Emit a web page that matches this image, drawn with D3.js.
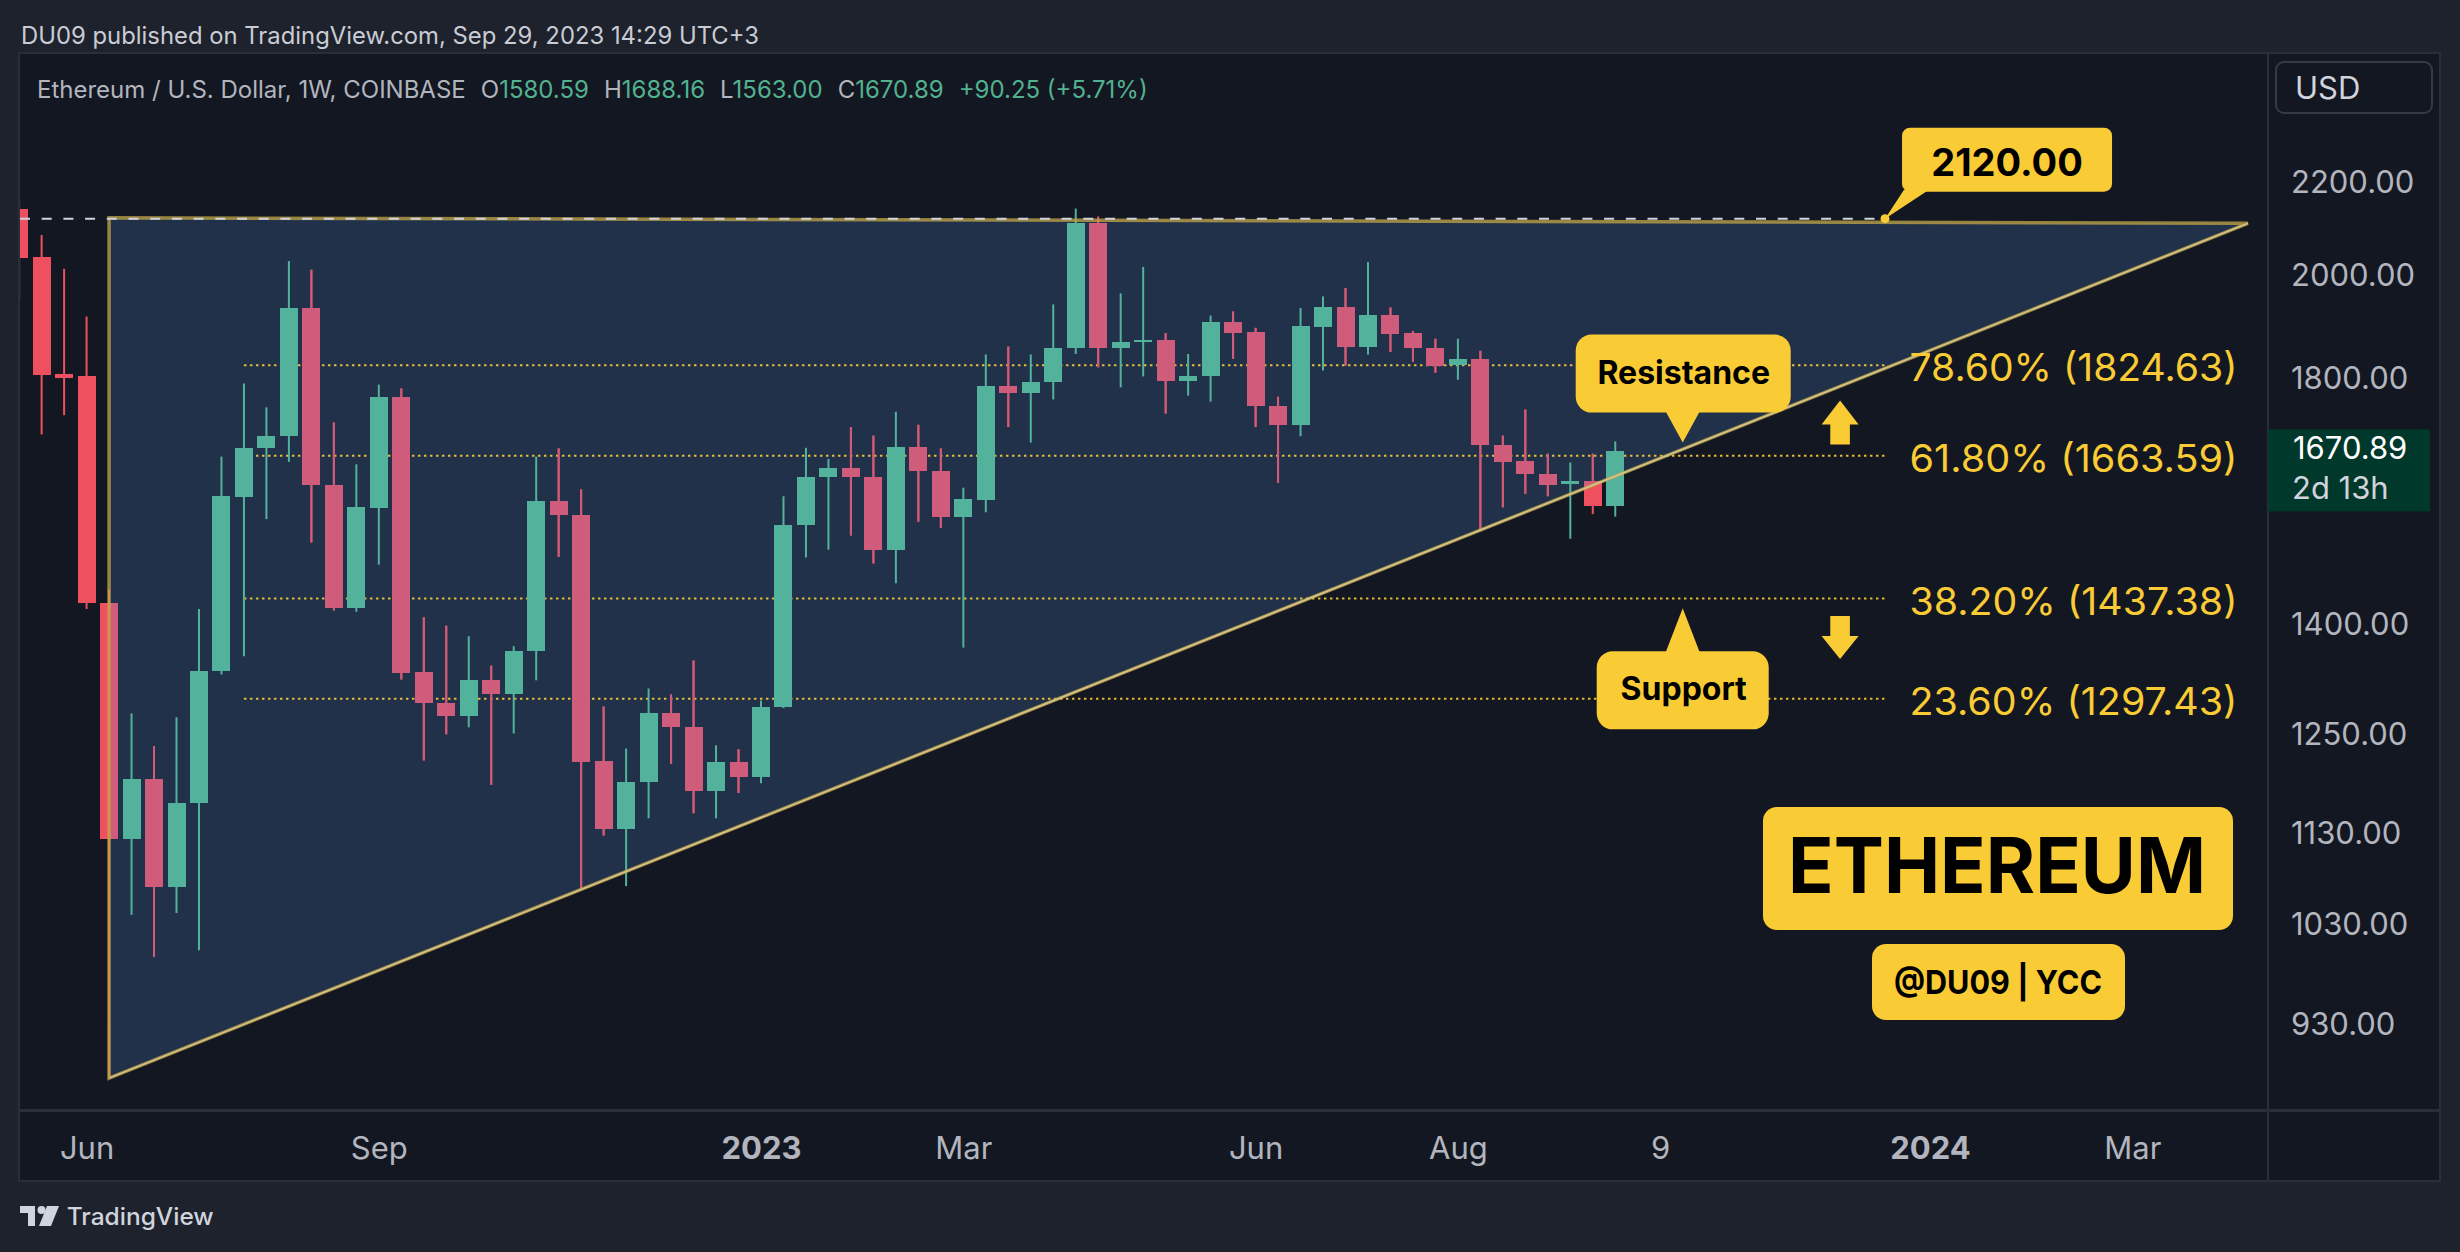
<!DOCTYPE html>
<html><head><meta charset="utf-8">
<script src="https://cdn.jsdelivr.net/npm/d3@7"></script>
<style>html,body{margin:0;padding:0;background:#1e222d;}svg{display:block;}</style>
</head><body>
<script>
// ---------------- DATA ----------------
const weeks = ["2022-05-16","2022-05-23","2022-05-30","2022-06-06","2022-06-13","2022-06-20","2022-06-27","2022-07-04","2022-07-11","2022-07-18","2022-07-25","2022-08-01","2022-08-08","2022-08-15","2022-08-22","2022-08-29","2022-09-05","2022-09-12","2022-09-19","2022-09-26","2022-10-03","2022-10-10","2022-10-17","2022-10-24","2022-10-31","2022-11-07","2022-11-14","2022-11-21","2022-11-28","2022-12-05","2022-12-12","2022-12-19","2022-12-26","2023-01-02","2023-01-09","2023-01-16","2023-01-23","2023-01-30","2023-02-06","2023-02-13","2023-02-20","2023-02-27","2023-03-06","2023-03-13","2023-03-20","2023-03-27","2023-04-03","2023-04-10","2023-04-17","2023-04-24","2023-05-01","2023-05-08","2023-05-15","2023-05-22","2023-05-29","2023-06-05","2023-06-12","2023-06-19","2023-06-26","2023-07-03","2023-07-10","2023-07-17","2023-07-24","2023-07-31","2023-08-07","2023-08-14","2023-08-21","2023-08-28","2023-09-04","2023-09-11","2023-09-18","2023-09-25"];
const opens  = [2142,2039,1809,1804,1431,1124,1195,1070,1166,1335,1595,1676,1697,1934,1615,1423,1577,1766,1333,1292,1274,1322,1303,1362,1589,1566,1217,1136,1191,1279,1260,1180,1216,1197,1287,1550,1627,1643,1627,1511,1679,1638,1562,1590,1786,1773,1794,1858,2110,1858,1869,1872,1796,1804,1908,1887,1750,1717,1898,1936,1860,1922,1886,1858,1826,1837,1682,1654,1632,1616,1621,1580.59];
const highs  = [2160,2085,2014,1918,1451,1278,1236,1273,1422,1662,1791,1748,2030,2012,1721,1649,1789,1782,1410,1398,1383,1342,1369,1662,1676,1607,1287,1233,1311,1303,1349,1237,1232,1295,1596,1677,1658,1713,1698,1740,1717,1676,1610,1845,1860,1845,1942,2142,2125,1964,2018,1886,1846,1920,1928,1896,1767,1935,1958,1975,2028,1936,1890,1875,1875,1852,1698,1744,1667,1652,1667,1688.16];
const lows   = [1950,1700,1734,1422,880,1040,996,1042,1003,1330,1355,1559,1653,1522,1420,1418,1488,1323,1218,1251,1260,1188,1252,1322,1500,1069,1128,1071,1148,1214,1154,1148,1178,1190,1285,1499,1511,1533,1490,1460,1555,1545,1367,1570,1713,1686,1762,1846,1821,1784,1804,1737,1769,1758,1837,1713,1618,1697,1815,1824,1845,1850,1831,1811,1798,1540,1578,1600,1596,1528,1567,1563.00];
const closes = [2037,1807,1802,1431,1124,1195,1070,1166,1335,1596,1677,1698,1934,1614,1423,1578,1766,1332,1292,1275,1322,1303,1362,1589,1565,1216,1136,1191,1279,1260,1180,1216,1197,1287,1550,1627,1643,1627,1511,1679,1638,1562,1591,1786,1773,1794,1858,2110,1858,1869,1872,1796,1804,1908,1886,1750,1717,1899,1936,1860,1922,1884,1858,1824,1837,1682,1653,1632,1614,1621,1580.64,1670.89];

const priceTicks = [2200,2000,1800,1400,1250,1130,1030,930];
const timeTickDates = ["2022-06-06","2022-09-05","2023-01-02","2023-03-06","2023-06-05","2023-08-07","2023-10-09","2024-01-01","2024-03-04"];
const timeTickLabels = ["Jun","Sep","2023","Mar","Jun","Aug","9","2024","Mar"];

const fibLabels = ["78.60%","61.80%","38.20%","23.60%"];
const fibPrices = [1824.63,1663.59,1437.38,1297.43];
const fibRange = ["2022-07-25","2023-12-18"];

const triangleDates = ["2022-06-13","2022-06-13","2024-04-09"];
const trianglePrices = [2122, 880, 2110];

const calloutLevel = 2120.00;
const calloutDate = "2023-12-18";
const resistanceTip = {date:"2023-10-16", price:1686};
const supportTip = {date:"2023-10-16", price:1423};
const arrowDate = "2023-12-04";
const arrowUpTip = 1760, arrowDownTip = 1351;

const legendTitle = "Ethereum / U.S. Dollar, 1W, COINBASE";
const legendChange = "+90.25 (+5.71%)";
const headerText = "DU09 published on TradingView.com, Sep 29, 2023 14:29 UTC+3";
const countdown = "2d 13h";

// ---------------- DRAW ----------------
const W=2460, H=1252;
const pane={x0:20,x1:2268,y0:54,y1:1110};
const FONT="Inter, 'Noto Sans', sans-serif";
const YEL="#f9cb35", GREEN="#53b29c", RED="#ef505f", RED_IN="#cf5c7a";
const parse=d3.utcParse("%Y-%m-%d");
const fmt=d3.format(".2f");

const data=weeks.map((w,i)=>({d:parse(w),o:opens[i],h:highs[i],l:lows[i],c:closes[i]}));

const x=d3.scaleUtc().domain([parse("2023-01-02"),parse("2024-01-01")]).range([761,1930]);
const y=d3.scaleLog().domain([851.8,2509]).range([pane.y1,pane.y0]);

const svg=d3.select("body").append("svg").attr("width",W).attr("height",H).style("font-family",FONT);
svg.append("rect").attr("width",W).attr("height",H).attr("fill","#1e222d");
svg.append("rect").attr("x",19).attr("y",53).attr("width",2421).attr("height",1128)
  .attr("fill","#131722").attr("stroke","#2a2e39").attr("stroke-width",2);

const defs=svg.append("defs");
defs.append("clipPath").attr("id","paneClip").append("rect")
  .attr("x",pane.x0).attr("y",pane.y0).attr("width",pane.x1-pane.x0).attr("height",pane.y1-pane.y0);
const triPts=triangleDates.map((d,i)=>[x(parse(d)),y(trianglePrices[i])]);
const triStr=triPts.map(p=>p.join(",")).join(" ");
defs.append("clipPath").attr("id","triClip").append("polygon").attr("points",triStr);

const g=svg.append("g").attr("clip-path","url(#paneClip)");

// triangle fill
g.append("polygon").attr("points",triStr).attr("fill","#21314a");

// fib dotted lines
const fx0=x(parse(fibRange[0])), fx1=x(parse(fibRange[1]));
g.selectAll("line.fib").data(fibPrices).join("line").attr("class","fib")
  .attr("x1",fx0).attr("x2",fx1).attr("y1",d=>y(d)).attr("y2",d=>y(d))
  .attr("stroke",YEL).attr("stroke-width",2).attr("stroke-dasharray","2.5,3.5").attr("opacity",0.9);

// candles
function drawCandles(sel, list, colorFn){
  const cg=sel.selectAll("g.c").data(list).join("g").attr("class","c");
  cg.append("line").attr("x1",d=>x(d.d)).attr("x2",d=>x(d.d))
    .attr("y1",d=>y(d.h)).attr("y2",d=>y(d.l)).attr("stroke",colorFn).attr("stroke-width",2);
  cg.append("rect").attr("x",d=>x(d.d)-9).attr("width",18)
    .attr("y",d=>y(Math.max(d.o,d.c)))
    .attr("height",d=>Math.max(2,Math.abs(y(d.o)-y(d.c))))
    .attr("fill",colorFn).attr("shape-rendering","crispEdges");
}
drawCandles(g.append("g"), data, d=>d.c>=d.o?GREEN:RED);
drawCandles(g.append("g").attr("clip-path","url(#triClip)"), data.filter(d=>d.c<d.o), ()=>RED_IN);

// triangle border
g.append("polygon").attr("points",triStr).attr("fill","none")
  .attr("stroke","rgba(196,168,72,0.75)").attr("stroke-width",3.5).attr("stroke-linejoin","miter");
g.append("line").attr("x1",triPts[1][0]).attr("y1",triPts[1][1]).attr("x2",triPts[2][0]).attr("y2",triPts[2][1])
  .attr("stroke","#d6c68e").attr("stroke-width",1.5);

// white dashed level line
const ax=x(parse(calloutDate)), ay=y(calloutLevel);
g.append("line").attr("x1",pane.x0).attr("x2",ax).attr("y1",ay).attr("y2",ay)
  .attr("stroke","#d1d4dc").attr("stroke-width",2).attr("stroke-dasharray","10,11.7");

// callout 2120
const cb=svg.append("g");
cb.append("polygon").attr("points",`${ax+19},${ay-29} ${ax+44},${ay-29} ${ax},${ay}`).attr("fill",YEL);
cb.append("rect").attr("x",ax+17).attr("y",ay-91).attr("width",210).attr("height",64).attr("rx",8).attr("fill",YEL);
cb.append("circle").attr("cx",ax).attr("cy",ay).attr("r",4.5).attr("fill",YEL);
cb.append("text").attr("x",ax+122).attr("y",ay-43).attr("text-anchor","middle")
  .attr("font-size",38).attr("font-weight",700).attr("fill","#000").text(fmt(calloutLevel));

// Resistance
const rx=x(parse(resistanceTip.date)), ry=y(resistanceTip.price);
svg.append("polygon").attr("points",`${rx-17},${ry-31} ${rx+17},${ry-31} ${rx},${ry}`).attr("fill",YEL);
svg.append("rect").attr("x",rx-107).attr("y",ry-108).attr("width",215).attr("height",78).attr("rx",16).attr("fill",YEL);
svg.append("text").attr("x",rx+1).attr("y",ry-58.5).attr("text-anchor","middle")
  .attr("font-size",32).attr("font-weight",700).attr("fill","#000").text("Resistance");

// Support
const sx=x(parse(supportTip.date)), sy=y(supportTip.price);
svg.append("polygon").attr("points",`${sx-17},${sy+44} ${sx+17},${sy+44} ${sx},${sy}`).attr("fill",YEL);
svg.append("rect").attr("x",sx-86).attr("y",sy+43).attr("width",172).attr("height",78).attr("rx",16).attr("fill",YEL);
svg.append("text").attr("x",sx+1).attr("y",sy+92).attr("text-anchor","middle")
  .attr("font-size",32).attr("font-weight",700).attr("fill","#000").text("Support");

// arrows
const arx=x(parse(arrowDate));
const ut=y(arrowUpTip), dt=y(arrowDownTip);
svg.append("polygon").attr("fill",YEL).attr("points",
  [[arx,ut],[arx+18.5,ut+24],[arx+9.8,ut+24],[arx+9.8,ut+44],[arx-9.8,ut+44],[arx-9.8,ut+24],[arx-18.5,ut+24]].map(p=>p.join(",")).join(" "));
svg.append("polygon").attr("fill",YEL).attr("points",
  [[arx,dt],[arx+18.5,dt-23],[arx+9.8,dt-23],[arx+9.8,dt-43],[arx-9.8,dt-43],[arx-9.8,dt-23],[arx-18.5,dt-23]].map(p=>p.join(",")).join(" "));

// fib labels
svg.selectAll("text.fibl").data(fibPrices).join("text").attr("class","fibl")
  .attr("x",2237.5).attr("y",d=>y(d)+16).attr("text-anchor","end")
  .attr("font-size",38).attr("fill",YEL)
  .attr("textLength",328).attr("lengthAdjust","spacingAndGlyphs")
  .text((d,i)=>`${fibLabels[i]} (${fmt(d)})`);

// ETHEREUM badge
svg.append("rect").attr("x",1763).attr("y",807).attr("width",470).attr("height",123).attr("rx",14).attr("fill",YEL);
svg.append("text").attr("x",1997).attr("y",893).attr("text-anchor","middle").attr("font-size",77).attr("font-weight",700)
  .attr("fill","#000").attr("textLength",418).attr("lengthAdjust","spacingAndGlyphs").text("ETHEREUM");
svg.append("rect").attr("x",1872).attr("y",944).attr("width",253).attr("height",76).attr("rx",14).attr("fill",YEL);
svg.append("text").attr("x",1998).attr("y",994).attr("text-anchor","middle").attr("font-size",33).attr("font-weight",700)
  .attr("fill","#000").attr("textLength",208).attr("lengthAdjust","spacingAndGlyphs").text("@DU09 | YCC");

// separators
svg.append("rect").attr("x",19).attr("y",1109).attr("width",2421).attr("height",3).attr("fill","#2a2e39");
svg.append("line").attr("x1",2268).attr("x2",2268).attr("y1",53).attr("y2",1181).attr("stroke","#2a2e39").attr("stroke-width",2);

// price axis
const ya=svg.append("g").attr("transform",`translate(${pane.x1},0)`)
  .call(d3.axisRight(y).tickValues(priceTicks).tickSize(0).tickPadding(23).tickFormat(fmt));
ya.select(".domain").remove();
ya.selectAll("text").attr("font-size",31).attr("fill","#b2b5be").attr("font-family",FONT);

// time axis
const xa=svg.append("g").attr("transform",`translate(0,${pane.y1})`)
  .call(d3.axisBottom(x).tickValues(timeTickDates.map(parse)).tickSize(0).tickPadding(27).tickFormat((d,i)=>timeTickLabels[i]));
xa.select(".domain").remove();
xa.selectAll("text").attr("font-size",31).attr("fill","#b2b5be").attr("font-family",FONT)
  .attr("font-weight",(d,i)=>/^\d{4}$/.test(timeTickLabels[i])?700:400);

// last price label
const last=data[data.length-1];
const ly=y(last.c);
svg.append("rect").attr("x",2268).attr("y",ly-22).attr("width",162).attr("height",82).attr("fill","#00382b");
svg.append("text").attr("x",2293).attr("y",ly+8).attr("font-size",31).attr("fill","#ffffff").text(fmt(last.c));
svg.append("text").attr("x",2292).attr("y",ly+48).attr("font-size",31).attr("fill","#d1d4dc").text(countdown);

// USD box
svg.append("rect").attr("x",2276).attr("y",62).attr("width",156).attr("height",51).attr("rx",8)
  .attr("fill","none").attr("stroke","#363a45").attr("stroke-width",2);
svg.append("text").attr("x",2295).attr("y",98.5).attr("font-size",31).attr("fill","#d1d4dc").text("USD");

// header
svg.append("text").attr("x",21).attr("y",43.5).attr("font-size",24).attr("fill","#c9ccd4")
  .attr("textLength",738).attr("lengthAdjust","spacingAndGlyphs").text(headerText);

// legend
const lg=svg.append("text").attr("x",37).attr("y",98).attr("font-size",24).attr("fill","#b2b5be");
lg.append("tspan").text(legendTitle);
const lv=[["O",last.o],["H",last.h],["L",last.l],["C",last.c]];
lv.forEach(([k,v])=>{
  lg.append("tspan").attr("dx",15).attr("fill","#b2b5be").text(k);
  lg.append("tspan").attr("fill","#52b18f").text(fmt(v));
});
lg.append("tspan").attr("dx",15).attr("fill","#52b18f").text(legendChange);

// footer logo
const lgG=svg.append("g").attr("fill","#d1d4dc");
lgG.append("path").attr("d","M20,1206 H35 V1226 H28 V1213 H20 Z");
lgG.append("circle").attr("cx",41.5).attr("cy",1210).attr("r",4);
lgG.append("path").attr("d","M47,1206 H59 L51,1226 H39 Z");
svg.append("text").attr("x",66.7).attr("y",1225).attr("font-size",24).attr("font-weight",500).attr("fill","#d1d4dc")
  .attr("textLength",147).attr("lengthAdjust","spacingAndGlyphs").text("TradingView");
</script>
</body></html>
